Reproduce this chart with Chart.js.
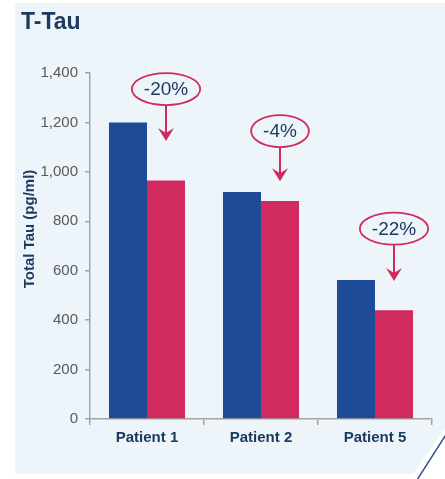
<!DOCTYPE html>
<html lang="en">
<head>
<meta charset="UTF-8">
<title>T-Tau</title>
<script src="https://cdn.jsdelivr.net/npm/chart.js"></script>
<style>
    html, body { margin: 0; padding: 0; background: #ffffff; }
    canvas { display: block; }
</style>
</head>
<body>
<canvas id="tauChart" width="445" height="479"></canvas>
<script>
// Total tau per patient, before and after
const patients = ['Patient 1', 'Patient 2', 'Patient 5'];
const tauBefore = [1200, 918, 562];
const tauAfter = [965, 882, 440];

// change callouts above each pair: label, ellipse level and arrow tip (pg/ml)
const changeLabels = ['-20%', '-4%', '-22%'];
const calloutLevels = [1335, 1165, 770];
const arrowTips = [1125, 962, 558];

const yTicks = [0, 200, 400, 600, 800, 1000, 1200, 1400];

const navy = '#1f3a60';
const pink = '#d12a5e';
const blue = '#1e4b97';
const axisGrey = '#a3a3a3';

// light panel with the cut corner, title and rotated axis label
const panelPlugin = {
    id: 'panel',
    beforeDraw(chart) {
        const ctx = chart.ctx;
        ctx.save();
        ctx.fillStyle = '#ffffff';
        ctx.fillRect(0, 0, chart.width, chart.height);
        ctx.fillStyle = '#edf4fa';
        ctx.beginPath();
        ctx.moveTo(15, 3);
        ctx.lineTo(445, 3);
        ctx.lineTo(445, 428);
        ctx.lineTo(413, 474);
        ctx.lineTo(15, 474);
        ctx.closePath();
        ctx.fill();
        ctx.strokeStyle = '#2a4f95';
        ctx.lineWidth = 1.5;
        ctx.beginPath();
        ctx.moveTo(417, 480);
        ctx.lineTo(447, 433);
        ctx.stroke();

        ctx.fillStyle = navy;
        ctx.font = 'bold 23px Arial, "Liberation Sans", sans-serif';
        ctx.textBaseline = 'alphabetic';
        ctx.fillText('T-Tau', 21, 29);

        ctx.translate(30, 229);
        ctx.rotate(-Math.PI / 2);
        ctx.textAlign = 'center';
        ctx.textBaseline = 'middle';
        ctx.font = 'bold 15px Arial, "Liberation Sans", sans-serif';
        ctx.fillText('Total Tau (pg/ml)', 0, 0);
        ctx.restore();
    }
};

// ellipse labels with arrows pointing down at the second bar of each pair
const calloutPlugin = {
    id: 'callouts',
    afterDatasetsDraw(chart) {
        const ctx = chart.ctx;
        const y = chart.scales.y;
        const bars = chart.getDatasetMeta(1).data;
        ctx.save();
        ctx.font = '19px Arial, "Liberation Sans", sans-serif';
        changeLabels.forEach((label, i) => {
            const cx = bars[i].x;
            const cy = y.getPixelForValue(calloutLevels[i]);
            const tip = y.getPixelForValue(arrowTips[i]);
            const rx = ctx.measureText(label).width / 2 + 12;
            const ry = 16;

            ctx.strokeStyle = pink;
            ctx.lineWidth = 1.8;
            ctx.beginPath();
            ctx.ellipse(cx, cy, rx, ry, 0, 0, Math.PI * 2);
            ctx.stroke();

            ctx.fillStyle = navy;
            ctx.textAlign = 'center';
            ctx.textBaseline = 'middle';
            ctx.fillText(label, cx, cy + 1);

            ctx.lineWidth = 2;
            ctx.beginPath();
            ctx.moveTo(cx, cy + ry);
            ctx.lineTo(cx, tip - 6);
            ctx.stroke();

            ctx.fillStyle = pink;
            ctx.beginPath();
            ctx.moveTo(cx, tip);
            ctx.lineTo(cx - 8, tip - 13);
            ctx.lineTo(cx, tip - 8);
            ctx.lineTo(cx + 8, tip - 13);
            ctx.closePath();
            ctx.fill();
        });
        ctx.restore();
    }
};

const ctx = document.getElementById('tauChart').getContext('2d');
new Chart(ctx, {
    type: 'bar',
    data: {
        labels: patients,
        datasets: [
            { label: 'Before', data: tauBefore, backgroundColor: blue },
            { label: 'After', data: tauAfter, backgroundColor: pink }
        ]
    },
    options: {
        responsive: false,
        animation: false,
        layout: { padding: { left: 0, right: 13, top: 73, bottom: 0 } },
        datasets: { bar: { categoryPercentage: 0.667, barPercentage: 1 } },
        plugins: {
            legend: { display: false },
            tooltip: { enabled: false }
        },
        scales: {
            x: {
                afterFit(scale) { scale.height = 60; },
                border: { color: axisGrey, width: 1.5 },
                grid: { offset: true, drawOnChartArea: false, tickLength: 6, color: axisGrey, lineWidth: 1.5 },
                ticks: {
                    color: navy,
                    padding: 4,
                    font: { family: 'Arial, "Liberation Sans", sans-serif', size: 15, weight: 'bold' }
                }
            },
            y: {
                min: 0,
                max: 1400,
                afterFit(scale) { scale.width = 90; },
                afterBuildTicks(scale) { scale.ticks = yTicks.map(v => ({ value: v })); },
                border: { color: axisGrey, width: 1.5 },
                grid: { drawOnChartArea: false, tickLength: 5, color: axisGrey, lineWidth: 1.5 },
                ticks: {
                    color: '#595959',
                    padding: 7,
                    font: { family: 'Arial, "Liberation Sans", sans-serif', size: 15 },
                    callback: v => v.toLocaleString('en-US')
                }
            }
        }
    },
    plugins: [panelPlugin, calloutPlugin]
});
</script>
</body>
</html>
